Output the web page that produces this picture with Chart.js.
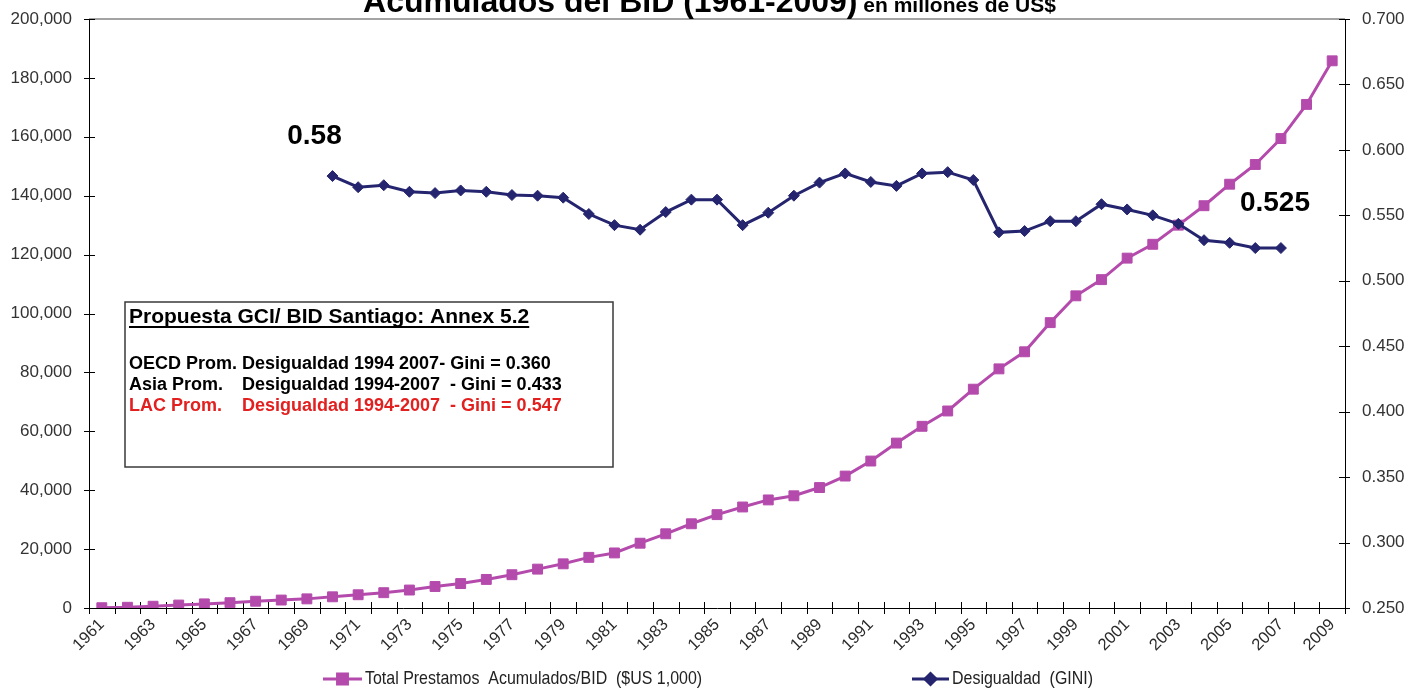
<!DOCTYPE html>
<html>
<head>
<meta charset="utf-8">
<script src="https://cdn.jsdelivr.net/npm/chart.js@4.4.1/dist/chart.umd.min.js"></script>
<style>
  html, body { margin: 0; padding: 0; background: #fff; }
  #wrap { width: 1419px; height: 688px; }
</style>
</head>
<body>
<div id="wrap"><canvas id="chart" width="1419" height="688"></canvas></div>
<script>
const years = ['1961','1962','1963','1964','1965','1966','1967','1968','1969','1970',
  '1971','1972','1973','1974','1975','1976','1977','1978','1979','1980',
  '1981','1982','1983','1984','1985','1986','1987','1988','1989','1990',
  '1991','1992','1993','1994','1995','1996','1997','1998','1999','2000',
  '2001','2002','2003','2004','2005','2006','2007','2008','2009'];

// total loans accumulated (left axis)
const prestamos = [100, 250, 600, 1000, 1400, 1800, 2300, 2700, 3100, 3800,
  4500, 5200, 6100, 7300, 8300, 9700, 11300, 13200, 15000, 17200,
  18700, 22000, 25200, 28600, 31700, 34300, 36700, 38100, 40900, 44800,
  49900, 56000, 61700, 66900, 74300, 81200, 87000, 96900, 106000, 111500,
  118800, 123500, 130000, 136600, 143900, 150600, 159400, 171000, 185800];

// GINI (right axis), 1970-2007
const gini = [null, null, null, null, null, null, null, null, null, 0.580,
  0.5715, 0.573, 0.568, 0.567, 0.569, 0.568, 0.5655, 0.565, 0.5635, 0.551,
  0.5425, 0.539, 0.5525, 0.562, 0.562, 0.5425, 0.552, 0.565, 0.575, 0.582,
  0.5755, 0.5725, 0.582, 0.583, 0.577, 0.537, 0.538, 0.5455, 0.5455, 0.5585,
  0.5545, 0.550, 0.5435, 0.531, 0.529, 0.525, 0.525, null, null];

const leftRange = [0, 200000, 20000];
const rightRange = [0.25, 0.70, 0.05];

const seriesNames = ['Total Prestamos  Acumulados/BID  ($US 1,000)', 'Desigualdad  (GINI)'];
const titleMain = 'Acumulados del BID (1961-2009)';
const titleSub = ' en millones de US$';
const boxTitle = 'Propuesta GCI/ BID Santiago: Annex 5.2';
const boxLines = [
  ['OECD Prom. Desigualdad 1994 2007- Gini = 0.360', ''],
  ['Asia Prom.', 'Desigualdad 1994-2007  - Gini = 0.433'],
  ['LAC Prom.', 'Desigualdad 1994-2007  - Gini = 0.547']
];
const callouts = [['1970', 0.580, '0.58'], ['2007', 0.525, '0.525']];

const PURPLE = '#b44bac';
const NAVY = '#25256f';
const FONT = '"Liberation Sans", Arial, sans-serif';

Chart.defaults.font.family = FONT;

const noPad = s => { s.paddingTop = 0; s.paddingBottom = 0; s.paddingLeft = 0; s.paddingRight = 0; };

const decor = {
  id: 'decor',
  beforeDatasetsDraw(chart) {
    const { ctx, chartArea: a, scales: { x, y, y1 } } = chart;
    ctx.save();
    ctx.strokeStyle = '#a3a3a3';
    ctx.lineWidth = 2;
    ctx.beginPath();
    ctx.moveTo(a.left, a.top);
    ctx.lineTo(a.right, a.top);
    ctx.stroke();

    ctx.strokeStyle = '#000';
    ctx.lineWidth = 1;
    ctx.beginPath();
    for (let i = 0; i <= years.length; i++) {
      const px = Math.round(x.getPixelForValue(i - 0.5)) + 0.5;
      ctx.moveTo(px, a.bottom - 6);
      ctx.lineTo(px, a.bottom + 6);
    }
    y.ticks.forEach(t => {
      const py = Math.round(y.getPixelForValue(t.value)) + 0.5;
      ctx.moveTo(a.left - 5, py);
      ctx.lineTo(a.left + 6, py);
    });
    y1.ticks.forEach(t => {
      const py = Math.round(y1.getPixelForValue(t.value)) + 0.5;
      ctx.moveTo(a.right - 6, py);
      ctx.lineTo(a.right + 5, py);
    });
    ctx.stroke();
    ctx.restore();
  },
  afterDraw(chart) {
    const { ctx, scales: { x, y1 } } = chart;
    ctx.save();

    // title, cut at the top like the original
    ctx.fillStyle = '#000';
    ctx.textBaseline = 'alphabetic';
    ctx.font = 'bold 32px ' + FONT;
    const w1 = ctx.measureText(titleMain).width;
    ctx.font = 'bold 21px ' + FONT;
    const w2 = ctx.measureText(titleSub).width;
    let tx = chart.width / 2 - (w1 + w2) / 2;
    ctx.font = 'bold 32px ' + FONT;
    ctx.fillText(titleMain, tx, 12);
    ctx.font = 'bold 21px ' + FONT;
    ctx.fillText(titleSub, tx + w1, 12);

    // value callouts
    ctx.font = 'bold 28px ' + FONT;
    ctx.textAlign = 'center';
    callouts.forEach(([yr, v, txt], k) => {
      const px = x.getPixelForValue(years.indexOf(yr));
      const py = y1.getPixelForValue(v);
      if (k === 0) ctx.fillText(txt, px - 18, py - 32);
      else ctx.fillText(txt, px - 6, py - 37);
    });

    // note box
    ctx.textAlign = 'left';
    ctx.strokeStyle = '#3a3a3a';
    ctx.lineWidth = 1.5;
    ctx.strokeRect(125, 302, 488, 165);
    ctx.font = 'bold 21px ' + FONT;
    ctx.fillText(boxTitle, 129, 323);
    const bw = ctx.measureText(boxTitle).width;
    ctx.lineWidth = 2;
    ctx.strokeStyle = '#000';
    ctx.beginPath();
    ctx.moveTo(129, 327);
    ctx.lineTo(129 + bw, 327);
    ctx.stroke();
    ctx.font = 'bold 18px ' + FONT;
    boxLines.forEach(([a, b], k) => {
      ctx.fillStyle = k === 2 ? '#e2201f' : '#000';
      const by = 369 + k * 21;
      ctx.fillText(a, 129, by);
      if (b) ctx.fillText(b, 242, by);
    });

    // legend
    const ly = 679;
    const items = [
      { x0: 323, x1: 362, color: PURPLE, style: 'rect', r: 7, text: seriesNames[0] },
      { x0: 912, x1: 949, color: NAVY, style: 'rectRot', r: 5.5, text: seriesNames[1] }
    ];
    items.forEach(it => {
      ctx.strokeStyle = it.color;
      ctx.fillStyle = it.color;
      ctx.lineWidth = 3;
      ctx.beginPath();
      ctx.moveTo(it.x0, ly);
      ctx.lineTo(it.x1, ly);
      ctx.stroke();
      Chart.helpers.drawPoint(ctx, { pointStyle: it.style, radius: it.r, borderWidth: 1, rotation: 0 }, (it.x0 + it.x1) / 2, ly);
      ctx.save();
      ctx.fillStyle = '#222';
      ctx.font = '19px ' + FONT;
      ctx.textBaseline = 'middle';
      ctx.translate(it.x1 + 3, ly);
      ctx.scale(0.84, 1);
      ctx.fillText(it.text, 0, 0);
      ctx.restore();
    });
    ctx.restore();
  }
};

new Chart(document.getElementById('chart'), {
  type: 'line',
  data: {
    labels: years,
    datasets: [
      {
        label: seriesNames[0],
        data: prestamos,
        yAxisID: 'y',
        order: 1,
        borderColor: PURPLE,
        backgroundColor: PURPLE,
        borderWidth: 3,
        pointStyle: 'rect',
        pointRadius: 7,
        pointBorderWidth: 1,
        pointBorderColor: PURPLE,
        pointBackgroundColor: PURPLE,
        tension: 0
      },
      {
        label: seriesNames[1],
        data: gini,
        yAxisID: 'y1',
        order: 0,
        borderColor: NAVY,
        backgroundColor: NAVY,
        borderWidth: 3,
        pointStyle: 'rectRot',
        pointRadius: 5.5,
        pointBorderWidth: 1,
        pointBorderColor: NAVY,
        pointBackgroundColor: NAVY,
        spanGaps: false,
        tension: 0
      }
    ]
  },
  options: {
    responsive: false,
    animation: false,
    devicePixelRatio: 1,
    layout: { padding: { top: 19, bottom: 30, left: 0, right: 0 } },
    plugins: {
      legend: { display: false },
      title: { display: false },
      tooltip: { enabled: false }
    },
    scales: {
      x: {
        type: 'category',
        offset: true,
        grid: { display: false, drawTicks: false },
        border: { display: true, color: '#000', width: 1 },
        ticks: {
          autoSkip: false,
          maxRotation: 45,
          minRotation: 45,
          padding: 7,
          color: '#2a2a2a',
          font: { size: 16.5 },
          callback: (v, i) => (i % 2 === 0 ? years[i] : '')
        },
        afterFit: s => { s.height = 50; noPad(s); }
      },
      y: {
        position: 'left',
        min: leftRange[0],
        max: leftRange[1],
        grid: { display: false, drawTicks: false },
        border: { display: true, color: '#000', width: 1 },
        ticks: {
          stepSize: leftRange[2],
          padding: 17,
          color: '#333',
          font: { size: 17 },
          callback: v => v.toLocaleString('en-US')
        },
        afterFit: s => { s.width = 89; noPad(s); }
      },
      y1: {
        position: 'right',
        min: rightRange[0],
        max: rightRange[1],
        grid: { display: false, drawTicks: false },
        border: { display: true, color: '#000', width: 1 },
        ticks: {
          stepSize: rightRange[2],
          padding: 17,
          color: '#333',
          font: { size: 17 },
          callback: v => v.toFixed(3)
        },
        afterFit: s => { s.width = 74; noPad(s); }
      }
    }
  },
  plugins: [decor]
});
</script>
</body>
</html>
